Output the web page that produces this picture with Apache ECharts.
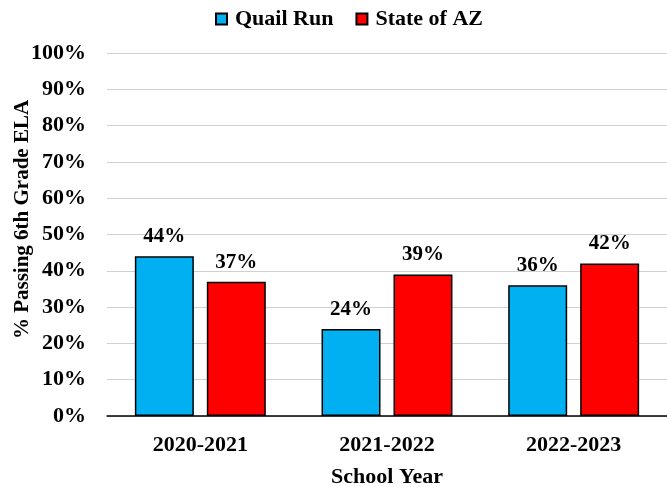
<!DOCTYPE html>
<html>
<head>
<meta charset="utf-8">
<script src="https://cdn.jsdelivr.net/npm/echarts@6/dist/echarts.min.js"></script>
<style>
  html, body { margin: 0; padding: 0; background: #fff; }
  #chart { width: 667px; height: 487px; }
</style>
</head>
<body>
<div id="chart"></div>
<script>
// school years and pass rates (%)
const years = ['2020-2021', '2021-2022', '2022-2023']
const quailRun = [44, 24, 36]
const stateAZ = [37, 39, 42]

const font = '"Liberation Serif", "Times New Roman", serif'
const chart = echarts.init(document.getElementById('chart'))

const labelStyle = {
  show: true,
  position: 'top',
  distance: 9,
  formatter: '{c}%',
  fontFamily: font,
  fontWeight: 'bold',
  fontSize: 21,
  color: '#000'
}

chart.setOption({
  animation: false,
  textStyle: { fontFamily: font },
  legend: {
    top: 3,
    left: 210,
    icon: 'rect',
    itemWidth: 11,
    itemHeight: 11,
    itemGap: 22,
    textStyle: { fontFamily: font, fontWeight: 'bold', fontSize: 22, color: '#000', padding: [0, 0, 0, 3] },
    data: ['Quail Run', 'State of AZ']
  },
  grid: { left: 107, right: 0, top: 53, bottom: 71, containLabel: false, outerBoundsMode: 'none' },
  xAxis: {
    type: 'category',
    data: years,
    name: 'School Year',
    nameLocation: 'middle',
    nameGap: 50,
    nameMoveOverlap: false,
    nameTextStyle: { fontFamily: font, fontWeight: 'bold', fontSize: 22, color: '#000' },
    axisLine: { lineStyle: { color: '#000', width: 1.5 } },
    axisTick: { show: false },
    axisLabel: { fontFamily: font, fontWeight: 'bold', fontSize: 22, color: '#000', margin: 18 }
  },
  yAxis: {
    type: 'value',
    min: 0,
    max: 100,
    interval: 10,
    name: '% Passing 6th Grade ELA',
    nameLocation: 'middle',
    nameGap: 74,
    nameMoveOverlap: false,
    nameTextStyle: { fontFamily: font, fontWeight: 'bold', fontSize: 21, color: '#000', padding: [0, 0, 0, 30] },
    axisLabel: { formatter: '{value}%', fontFamily: font, fontWeight: 'bold', fontSize: 22, color: '#000', margin: 21 },
    axisLine: { show: false },
    axisTick: { show: false },
    splitLine: { lineStyle: { color: '#d0d0d0', width: 1 } }
  },
  series: [
    {
      name: 'Quail Run',
      type: 'bar',
      data: quailRun,
      barWidth: '31.6%',
      barGap: '22%',
      itemStyle: { color: '#00b0f0', borderColor: '#000', borderWidth: 1.5 },
      label: labelStyle
    },
    {
      name: 'State of AZ',
      type: 'bar',
      data: stateAZ,
      barWidth: '31.6%',
      itemStyle: { color: '#ff0000', borderColor: '#000', borderWidth: 1.5 },
      label: labelStyle
    }
  ]
})
</script>
</body>
</html>
